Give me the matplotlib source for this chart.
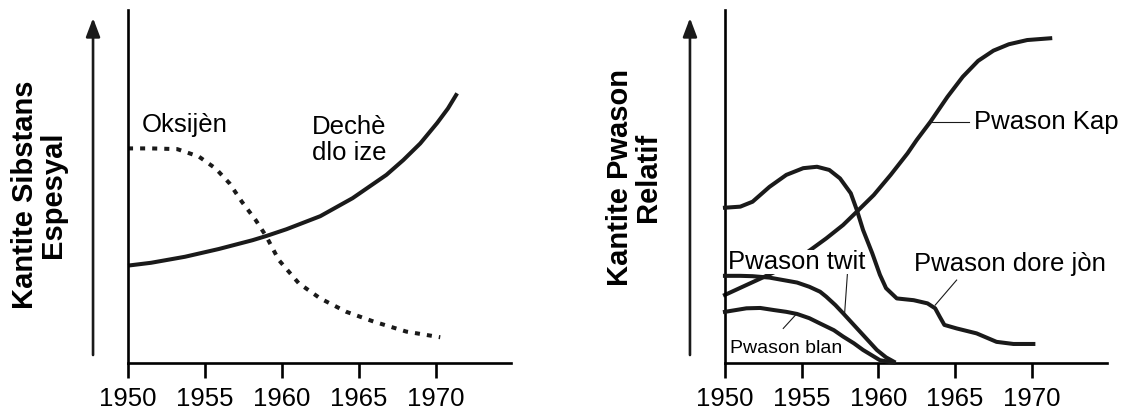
import matplotlib
matplotlib.use("Agg")
import matplotlib.pyplot as plt
from matplotlib import font_manager

plt.rcParams['font.family'] = ['Liberation Sans', 'DejaVu Sans']
plt.rcParams['lines.solid_joinstyle'] = 'round'
plt.rcParams['lines.dash_joinstyle'] = 'round'

# Panel kiri: substansi khusus
years_oks = [1950, 1951.5, 1953.2, 1954.6, 1955.7, 1956.6, 1957.4, 1958.3, 1959.0,
             1959.8, 1961.1, 1962.5, 1964.2, 1966.0, 1968.1, 1970.3]
oksijen = [60.8, 60.8, 60.6, 58.5, 55.1, 50.9, 45.7, 40.5, 35.8,
           29.2, 22.6, 18.3, 14.5, 11.7, 8.9, 7.3]
years_deche = [1950, 1951.5, 1953.7, 1955.9, 1958.1, 1959.0, 1960.3, 1962.5, 1964.6,
               1966.8, 1967.9, 1969.0, 1970.1, 1970.8, 1971.4]
deche = [27.6, 28.4, 30.1, 32.3, 34.8, 36.0, 37.9, 41.6, 46.7,
         53.3, 57.5, 62.2, 68.0, 72.1, 76.4]

# Panel kanan: jumlah ikan relatif
years_kap = [1950, 1951.4, 1953.3, 1955.4, 1956.6, 1957.7, 1958.6, 1959.7, 1960.8,
             1961.9, 1962.5, 1963.4, 1964.5, 1965.5, 1966.5, 1967.5, 1968.5, 1969.7, 1971.2]
kap = [19.3, 22.1, 25.9, 31.5, 35.3, 39.1, 42.9, 47.6, 53.3,
       59.4, 63.2, 68.4, 75.4, 81.1, 85.6, 88.5, 90.3, 91.5, 92.0]
years_dore = [1950.0, 1951.0, 1951.8, 1952.9, 1954.0, 1955.1, 1956.0, 1956.8, 1957.5,
              1958.2, 1958.6, 1959.0, 1959.6, 1960.1, 1960.5, 1961.2, 1962.3, 1963.2,
              1963.7, 1964.0, 1964.3, 1965.1, 1966.4, 1967.7, 1968.8, 1970.1]
dore = [44.0, 44.3, 45.7, 49.9, 53.3, 55.2, 55.6, 54.7, 52.3,
        48.1, 43.3, 37.7, 31.1, 25.0, 21.2, 18.3, 17.8, 16.9,
        15.5, 13.1, 10.8, 9.8, 8.4, 6.0, 5.4, 5.4]
years_twit = [1950, 1951.0, 1951.8, 1952.9, 1953.8, 1954.7, 1955.5, 1956.2, 1956.6,
              1957.2, 1957.7, 1958.8, 1959.9, 1960.5, 1961.0]
twit = [24.7, 24.7, 24.6, 24.2, 23.5, 22.8, 21.6, 20.2, 18.8,
        16.4, 14.1, 8.9, 3.7, 1.6, 0.4]
years_blan = [1950, 1951.4, 1952.3, 1953.2, 1954.0, 1954.7, 1955.5, 1956.2, 1957.1,
              1957.7, 1958.4, 1959.0, 1960.1, 1961.0]
blan = [14.5, 15.5, 15.6, 15.0, 14.5, 13.9, 12.7, 11.2, 9.3,
        7.5, 5.6, 3.7, 0.8, 0.1]

tick_years = [1950, 1955, 1960, 1965, 1970]

FS = 18.5
LW = 2.9
INK = '#1a1a1a'

# font sempit untuk "Pwason blan" kalau ada
narrow = dict(fontsize=14)
for f in font_manager.fontManager.ttflist:
    if f.name == 'Liberation Sans Narrow':
        narrow = dict(family=['Liberation Sans Narrow', 'DejaVu Sans'], fontsize=FS)
        break

fig = plt.figure(figsize=(11.25, 4.13), dpi=100)
ax1 = fig.add_axes([0.1138, 0.121, 0.3404, 0.8547])
ax2 = fig.add_axes([0.6444, 0.121, 0.3396, 0.8547])

for ax in (ax1, ax2):
    ax.set_xlim(1950, 1974.9)
    ax.set_ylim(0, 100)
    ax.spines['top'].set_visible(False)
    ax.spines['right'].set_visible(False)
    ax.spines['left'].set_linewidth(1.9)
    ax.spines['bottom'].set_linewidth(1.9)
    ax.set_xticks(tick_years)
    ax.set_xticklabels([str(t) for t in tick_years])
    ax.set_yticks([])
    ax.tick_params(axis='x', direction='out', length=11, width=1.9, pad=6, labelsize=FS)

# Kiri
ax1.plot(years_oks, oksijen, color=INK, lw=LW, linestyle=(0, (1.25, 1.75)), clip_on=False)
ax1.plot(years_deche, deche, color=INK, lw=LW, solid_capstyle='butt', clip_on=False)
ax1.text(1953.7, 65.5, "Oksijèn", fontsize=FS, ha='center', va='baseline')
ax1.text(1964.4, 57.5, "Dechè\ndlo ize", fontsize=FS, ha='center', va='baseline',
         linespacing=1.1)

# Kanan
ax2.plot(years_kap, kap, color=INK, lw=LW, zorder=2, clip_on=False)
ax2.plot(years_dore, dore, color=INK, lw=LW, zorder=4, clip_on=False)
ax2.plot(years_twit, twit, color=INK, lw=LW, zorder=4, clip_on=False)
ax2.plot(years_blan, blan, color=INK, lw=LW, zorder=4, clip_on=False)

ax2.text(1954.7, 26.5, "Pwason twit", fontsize=FS, ha='center', va='baseline', zorder=3,
         bbox=dict(facecolor='white', edgecolor='none', pad=0))
ax2.plot([1958.0, 1957.8], [26.4, 14.1], color=INK, lw=0.8)

ax2.plot([1963.5, 1965.9], [68.4, 68.4], color=INK, lw=0.8)
ax2.text(1966.2, 68.4, "Pwason Kap", fontsize=FS, ha='left', va='center', clip_on=False)

ax2.plot([1965.1, 1963.7], [23.5, 16.4], color=INK, lw=0.8)
ax2.text(1962.3, 26.0, "Pwason dore jòn", fontsize=FS, ha='left', va='baseline',
         clip_on=False)

ax2.plot([1953.8, 1954.6], [9.8, 13.6], color=INK, lw=0.8)
ax2.text(1954.0, 2.7, "Pwason blan", ha='center', va='baseline', **narrow)

# Label sumbu y dan panah
fig.text(0.035, 0.528, "Kantite Sibstans\nEspesyal", rotation=90, ha='center',
         va='center', fontsize=21, fontweight='bold', linespacing=1.0)
fig.text(0.5636, 0.571, "Kantite Pwason\nRelatif", rotation=90, ha='center',
         va='center', fontsize=21, fontweight='bold', linespacing=1.0)

for xa in (0.0827, 0.6133):
    fig.add_artist(matplotlib.patches.FancyArrowPatch(
        (xa, 0.1404), (xa, 0.9564), transform=fig.transFigure,
        arrowstyle='-|>,head_length=0.45,head_width=0.17', mutation_scale=25,
        lw=1.9, color=INK, shrinkA=0, shrinkB=0))

fig.savefig("out.png", dpi=100)
